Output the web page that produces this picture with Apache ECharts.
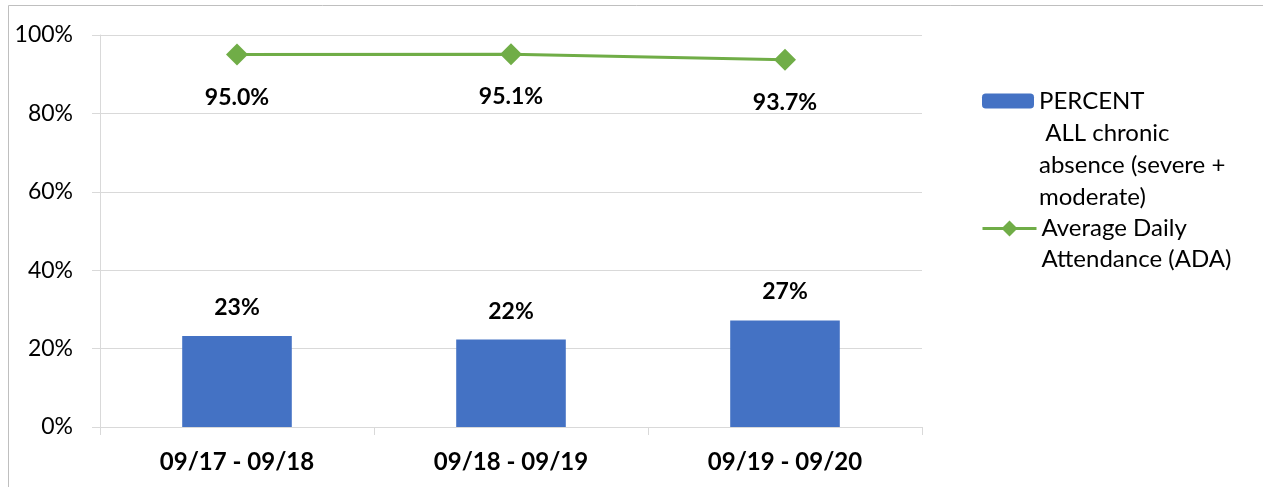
<!DOCTYPE html>
<html>
<head>
<meta charset="utf-8">
<script src="https://cdn.jsdelivr.net/npm/echarts@6/dist/echarts.min.js"></script>
<style>
  html, body { margin: 0; padding: 0; background: #fff; }
  #chart { width: 1263px; height: 487px; }
</style>
</head>
<body>
<div id="chart"></div>
<script>
// school years on the x axis
var years = ["09/17 - 09/18", "09/18 - 09/19", "09/19 - 09/20"];
// chronic absence, percent
var chronicAbsence = [23.2, 22.3, 27.2];
// average daily attendance, percent
var attendance = [95.0, 95.1, 93.7];
var yTicks = [0, 20, 40, 60, 80, 100];

var barName = "PERCENT\n ALL chronic\nabsence (severe +\nmoderate)";
var lineName = "Average Daily\nAttendance (ADA)";

var myChart = echarts.init(document.getElementById("chart"));

var font = "Lato, 'Liberation Sans', sans-serif";

// legend text is centred on the icon, so pad with empty lines to put the icon on line one
function padLines(name) {
  var n = name.split("\n").length - 1;
  return new Array(n + 1).join("\n") + name;
}

var option = {
  animation: false,
  textStyle: { fontFamily: font },
  graphic: [
    {
      type: "rect",
      shape: { x: 8.5, y: 5.5, width: 1400, height: 600 },
      style: { fill: "none", stroke: "#bfbfbf", lineWidth: 1 },
      silent: true
    }
  ],
  grid: { left: 100, right: 341, top: 35, bottom: 60 },
  legend: [
    {
      data: [barName],
      left: 982,
      top: 101 - 112,
      padding: 0,
      itemWidth: 52,
      itemHeight: 15,
      formatter: padLines,
      textStyle: { fontSize: 24, lineHeight: 32, color: "#000", fontFamily: font }
    },
    {
      data: [lineName],
      left: 981,
      top: 230 - 48,
      padding: 0,
      itemWidth: 54,
      itemHeight: 20,
      formatter: padLines,
      lineStyle: { width: 3 },
      textStyle: { fontSize: 24, lineHeight: 31, color: "#000", fontFamily: font }
    }
  ],
  xAxis: {
    type: "category",
    data: years,
    axisLine: { lineStyle: { color: "#d9d9d9" } },
    axisTick: { show: true, length: 8, lineStyle: { color: "#d9d9d9" } },
    axisLabel: { fontSize: 24, fontWeight: "bold", color: "#000", margin: 23, fontFamily: font }
  },
  yAxis: {
    type: "value",
    min: yTicks[0],
    max: yTicks[yTicks.length - 1],
    interval: 20,
    axisLine: { show: true, lineStyle: { color: "#d9d9d9" } },
    axisTick: { show: true, length: 8, lineStyle: { color: "#d9d9d9" } },
    splitLine: { lineStyle: { color: "#d9d9d9" } },
    axisLabel: { fontSize: 23, color: "#000", margin: 27, formatter: "{value}%", fontFamily: font }
  },
  series: [
    {
      name: barName,
      type: "bar",
      data: chronicAbsence,
      barWidth: "40%",
      itemStyle: { color: "#4472C4" },
      label: {
        show: true,
        position: "top",
        distance: 17,
        fontSize: 23,
        fontWeight: "bold",
        color: "#000",
        fontFamily: font,
        formatter: function (p) { return Math.round(p.value) + "%"; }
      }
    },
    {
      name: lineName,
      type: "line",
      data: attendance,
      symbol: "diamond",
      symbolSize: 22,
      lineStyle: { color: "#70AD47", width: 3 },
      itemStyle: { color: "#70AD47" },
      label: {
        show: true,
        position: "bottom",
        distance: 20,
        fontSize: 23,
        fontWeight: "bold",
        color: "#000",
        fontFamily: font,
        formatter: function (p) { return p.value.toFixed(1) + "%"; }
      }
    }
  ]
};

myChart.setOption(option);
</script>
</body>
</html>
